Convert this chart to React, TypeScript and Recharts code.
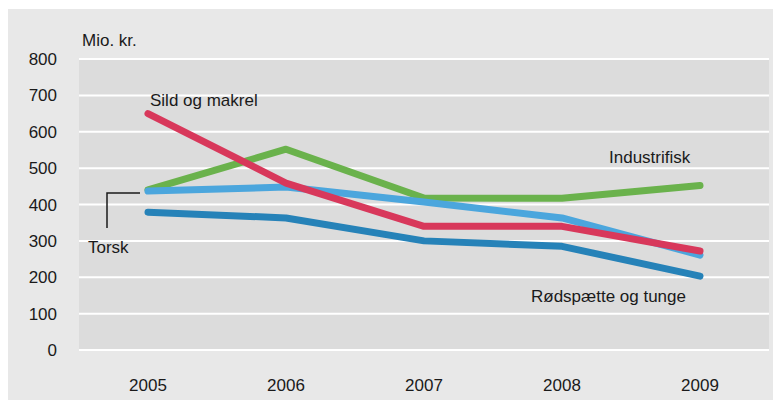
import { LineChart, Line, XAxis, YAxis, CartesianGrid } from 'recharts';

const years = ['2005', '2006', '2007', '2008', '2009'];
const sildOgMakrel = [650, 459, 340, 340, 272];
const industrifisk = [440, 552, 418, 417, 452];
const torsk = [437, 448, 407, 363, 261];
const rodspaette = [379, 363, 300, 285, 203];
const yTicks = [0, 100, 200, 300, 400, 500, 600, 700, 800];

const FONT = '"Liberation Sans", Arial, sans-serif';
const W = 773;
const H = 391;

const chartData = years.map((year, i) => ({
  year,
  sild: sildOgMakrel[i],
  industri: industrifisk[i],
  torsk: torsk[i],
  rodspaette: rodspaette[i],
}));

const tickStyle = { fontSize: 17, fontFamily: FONT, fill: '#1a1a1a' };

export default function App() {
  return (
    <div style={{ position: 'relative', width: W, height: H, marginTop: 1, background: '#e8e8e8' }}>
      <LineChart width={W} height={H} data={chartData} margin={{ top: 50, right: 12, bottom: 0, left: 0 }}>
        <CartesianGrid vertical={false} fill="#dcdcdc" stroke="#ffffff" strokeWidth={2} />
        <XAxis
          dataKey="year"
          padding={{ left: 69, right: 69 }}
          axisLine={false}
          tickLine={false}
          tickSize={0}
          tickMargin={29}
          height={50}
          tick={tickStyle}
        />
        <YAxis
          domain={[0, 800]}
          ticks={yTicks}
          axisLine={false}
          tickLine={false}
          tickSize={0}
          tickMargin={22}
          width={71}
          tick={tickStyle}
        />
        <Line dataKey="industri" stroke="#6ab24c" strokeWidth={7} dot={false} strokeLinecap="round" strokeLinejoin="round" isAnimationActive={false} />
        <Line dataKey="rodspaette" stroke="#2682b8" strokeWidth={7} dot={false} strokeLinecap="round" strokeLinejoin="round" isAnimationActive={false} />
        <Line dataKey="torsk" stroke="#4ba6dd" strokeWidth={7} dot={false} strokeLinecap="round" strokeLinejoin="round" isAnimationActive={false} />
        <Line dataKey="sild" stroke="#d8385b" strokeWidth={7} dot={false} strokeLinecap="round" strokeLinejoin="round" isAnimationActive={false} />
      </LineChart>
      <svg width={W} height={H} style={{ position: 'absolute', left: 0, top: 0, pointerEvents: 'none' }}>
        <g fontFamily={FONT} fontSize={17} fill="#1a1a1a" dominantBaseline="central">
          <text x={74} y={31}>Mio. kr.</text>
          <text x={142} y={91}>Sild og makrel</text>
          <text x={601} y={148}>Industrifisk</text>
          <text x={523} y={287}>Rødspætte og tunge</text>
          <text x={80} y={238}>Torsk</text>
        </g>
        <path d="M132,184 H99 V219" stroke="#1a1a1a" strokeWidth={1.5} fill="none" />
      </svg>
    </div>
  );
}
